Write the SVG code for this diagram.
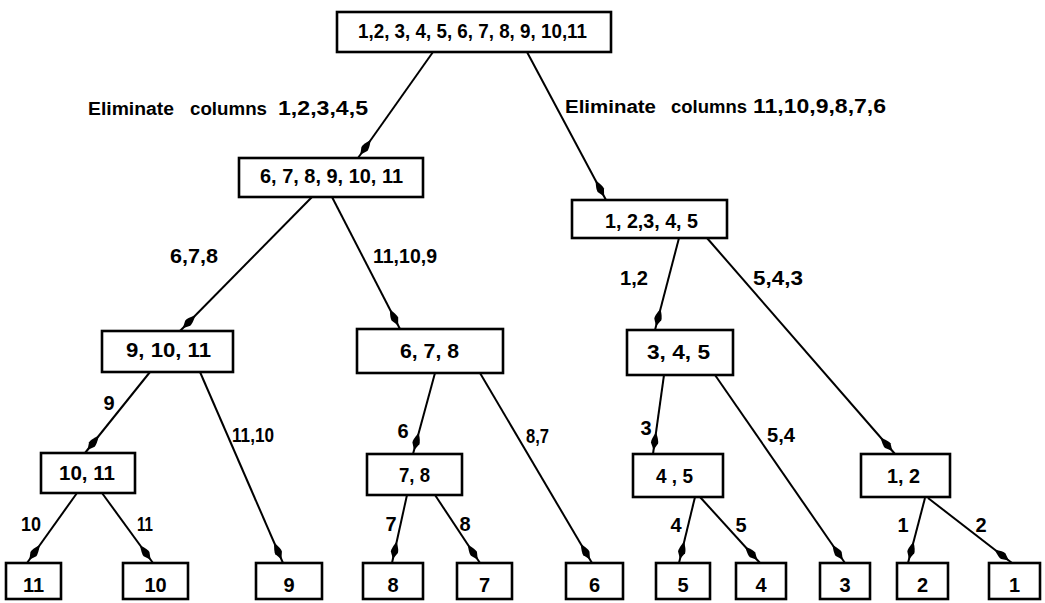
<svg xmlns="http://www.w3.org/2000/svg" width="1045" height="603" viewBox="0 0 1045 603">
  <style>
    .box { fill: #fff; stroke: #000; stroke-width: 2.6; }
    .edge { fill: none; stroke: #000; stroke-width: 2; marker-end: url(#spindle); }
    text { font-family: "Liberation Sans", Arial, sans-serif; font-weight: bold; fill: #000; }
    .nt { font-size: 20px; text-anchor: middle; }
    .lb { font-size: 20px; }
    .lc { font-size: 20px; text-anchor: middle; }
    .wd { font-size: 18px; }
  </style>
  <defs>
    <!-- slender spindle head whose point sits just short of the target box -->
    <marker id="spindle" markerUnits="userSpaceOnUse" viewBox="0 0 24 10" markerWidth="24" markerHeight="10" refX="22" refY="5" orient="auto">
      <path d="M18,5 L11,1.4 Q8,1 0,5 Q8,9 11,8.6 Z" fill="#000"/>
    </marker>
  </defs>

  <g id="connectors">
    <path class="edge" d="M433,52 L358,158"/>
    <path class="edge" d="M527,52 L606,200"/>
    <path class="edge" d="M312,197 L180,331"/>
    <path class="edge" d="M332,197 L400,329"/>
    <path class="edge" d="M679,238 L655,330"/>
    <path class="edge" d="M707,238 L895,454"/>
    <path class="edge" d="M150,372 L85,453"/>
    <path class="edge" d="M200,372 L283,563"/>
    <path class="edge" d="M435,373 L413,454"/>
    <path class="edge" d="M480,373 L592,563"/>
    <path class="edge" d="M664,375 L653,454"/>
    <path class="edge" d="M715,375 L845,563"/>
    <path class="edge" d="M77,493 L27,563"/>
    <path class="edge" d="M102,493 L153,563"/>
    <path class="edge" d="M407,495 L392,563"/>
    <path class="edge" d="M435,495 L480,563"/>
    <path class="edge" d="M695,497 L679,563"/>
    <path class="edge" d="M700,497 L760,563"/>
    <path class="edge" d="M925,498 L908,563"/>
    <path class="edge" d="M928,498 L1012,563"/>
  </g>

  <g id="edge-labels">
    <text class="wd" x="88" y="115" textLength="86" lengthAdjust="spacingAndGlyphs">Eliminate</text>
    <text class="wd" x="190" y="115" textLength="77" lengthAdjust="spacingAndGlyphs">columns</text>
    <text class="lb" x="278" y="115" textLength="90" lengthAdjust="spacingAndGlyphs">1,2,3,4,5</text>
    <text class="wd" x="565" y="113" textLength="91" lengthAdjust="spacingAndGlyphs">Eliminate</text>
    <text class="wd" x="671" y="113" textLength="76" lengthAdjust="spacingAndGlyphs">columns</text>
    <text class="lb" x="753" y="113" textLength="133" lengthAdjust="spacingAndGlyphs">11,10,9,8,7,6</text>
    <text class="lb" x="170" y="263" textLength="48" lengthAdjust="spacingAndGlyphs">6,7,8</text>
    <text class="lb" x="373" y="263" textLength="64" lengthAdjust="spacingAndGlyphs">11,10,9</text>
    <text class="lb" x="620" y="285" textLength="28" lengthAdjust="spacingAndGlyphs">1,2</text>
    <text class="lb" x="753" y="285" textLength="50" lengthAdjust="spacingAndGlyphs">5,4,3</text>
    <text class="lc" x="109" y="410">9</text>
    <text class="lb" x="232" y="442" textLength="42" lengthAdjust="spacingAndGlyphs">11,10</text>
    <text class="lc" x="403" y="438">6</text>
    <text class="lb" x="526" y="443" textLength="23" lengthAdjust="spacingAndGlyphs">8,7</text>
    <text class="lc" x="646" y="435">3</text>
    <text class="lb" x="767" y="442" textLength="28" lengthAdjust="spacingAndGlyphs">5,4</text>
    <text class="lb" x="21" y="531" textLength="20" lengthAdjust="spacingAndGlyphs">10</text>
    <text class="lb" x="137" y="531" textLength="16" lengthAdjust="spacingAndGlyphs">11</text>
    <text class="lc" x="391" y="531">7</text>
    <text class="lc" x="465" y="531">8</text>
    <text class="lc" x="676" y="532">4</text>
    <text class="lc" x="741" y="532">5</text>
    <text class="lc" x="903" y="532">1</text>
    <text class="lc" x="981" y="532">2</text>
  </g>

  <g id="n-root">
    <rect class="box" x="337" y="12" width="274" height="40"/>
    <text class="nt" x="472.5" y="38" textLength="229" lengthAdjust="spacingAndGlyphs">1,2, 3, 4, 5, 6, 7, 8, 9, 10,11</text>
  </g>
  <g id="n-6-11">
    <rect class="box" x="239" y="158" width="184" height="39"/>
    <text class="nt" x="331.5" y="183" textLength="143" lengthAdjust="spacingAndGlyphs">6, 7, 8, 9, 10, 11</text>
  </g>
  <g id="n-1-5">
    <rect class="box" x="572" y="200" width="155" height="38"/>
    <text class="nt" x="651.5" y="228" textLength="93" lengthAdjust="spacingAndGlyphs">1, 2,3, 4, 5</text>
  </g>
  <g id="n-9-11">
    <rect class="box" x="102" y="331" width="131" height="41"/>
    <text class="nt" x="168.5" y="357" textLength="85" lengthAdjust="spacingAndGlyphs">9, 10, 11</text>
  </g>
  <g id="n-6-8">
    <rect class="box" x="357" y="329" width="146" height="44"/>
    <text class="nt" x="429.5" y="358" textLength="59" lengthAdjust="spacingAndGlyphs">6, 7, 8</text>
  </g>
  <g id="n-3-5">
    <rect class="box" x="627" y="330" width="106" height="45"/>
    <text class="nt" x="678.5" y="359" textLength="63" lengthAdjust="spacingAndGlyphs">3, 4, 5</text>
  </g>
  <g id="n-10-11">
    <rect class="box" x="41" y="453" width="94" height="40"/>
    <text class="nt" x="87" y="480" textLength="56" lengthAdjust="spacingAndGlyphs">10, 11</text>
  </g>
  <g id="n-7-8">
    <rect class="box" x="367" y="454" width="95" height="41"/>
    <text class="nt" x="414.5" y="482" textLength="31" lengthAdjust="spacingAndGlyphs">7, 8</text>
  </g>
  <g id="n-4-5">
    <rect class="box" x="633" y="454" width="90" height="43"/>
    <text class="nt" x="674.5" y="483" textLength="37" lengthAdjust="spacingAndGlyphs">4 , 5</text>
  </g>
  <g id="n-1-2">
    <rect class="box" x="861" y="454" width="89" height="43"/>
    <text class="nt" x="903.5" y="483" textLength="33" lengthAdjust="spacingAndGlyphs">1, 2</text>
  </g>

  <g id="leaf-11"><rect class="box" x="6" y="563" width="55" height="36"/><text class="nt" x="33.5" y="592">11</text></g>
  <g id="leaf-10"><rect class="box" x="123" y="563" width="65" height="36"/><text class="nt" x="155.5" y="592">10</text></g>
  <g id="leaf-9"><rect class="box" x="256" y="563" width="66" height="36"/><text class="nt" x="289" y="592">9</text></g>
  <g id="leaf-8"><rect class="box" x="363" y="563" width="60" height="36"/><text class="nt" x="393" y="592">8</text></g>
  <g id="leaf-7"><rect class="box" x="457" y="563" width="55" height="36"/><text class="nt" x="484.5" y="592">7</text></g>
  <g id="leaf-6"><rect class="box" x="566" y="563" width="57" height="36"/><text class="nt" x="594.5" y="592">6</text></g>
  <g id="leaf-5"><rect class="box" x="656" y="563" width="54" height="36"/><text class="nt" x="683" y="592">5</text></g>
  <g id="leaf-4"><rect class="box" x="736" y="563" width="50" height="36"/><text class="nt" x="761" y="592">4</text></g>
  <g id="leaf-3"><rect class="box" x="820" y="563" width="50" height="36"/><text class="nt" x="845" y="592">3</text></g>
  <g id="leaf-2"><rect class="box" x="897" y="563" width="51" height="36"/><text class="nt" x="922.5" y="592">2</text></g>
  <g id="leaf-1"><rect class="box" x="989" y="563" width="51" height="36"/><text class="nt" x="1014.5" y="592">1</text></g>
</svg>
